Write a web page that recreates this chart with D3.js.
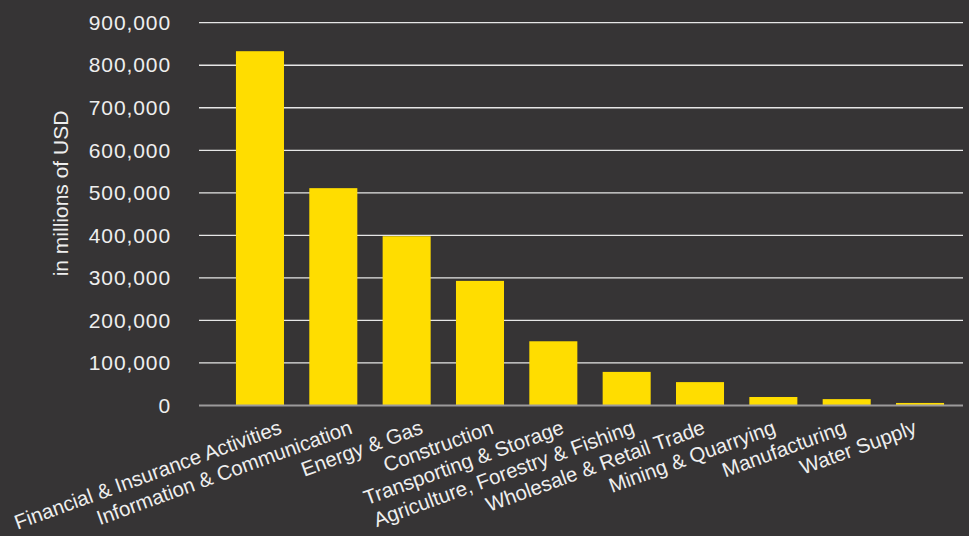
<!DOCTYPE html>
<html>
<head>
<meta charset="utf-8">
<script src="https://cdn.jsdelivr.net/npm/d3@7"></script>
<style>
  html, body { margin: 0; padding: 0; background: #363435; }
  svg { display: block; font-family: "Liberation Sans", Arial, sans-serif; }
</style>
</head>
<body>
<svg id="chart" width="969" height="536"></svg>
<script>
// data
var sectors = [
    "Financial & Insurance Activities",
    "Information & Communication",
    "Energy & Gas",
    "Construction",
    "Transporting & Storage",
    "Agriculture, Forestry & Fishing",
    "Wholesale & Retail Trade",
    "Mining & Quarrying",
    "Manufacturing",
    "Water Supply"
];
var investment = [833000, 511000, 398000, 293000, 151000, 79000, 55000, 20000, 15000, 6000];
var yTicks = [0, 100000, 200000, 300000, 400000, 500000, 600000, 700000, 800000, 900000];

var data = sectors.map((s, i) => ({sector: s, value: investment[i]}));

var svg = d3.select("#chart"),
    gridLeft = 199,
    gridRight = 963,
    yScale = d3.scaleLinear().domain([0, 900000]).range([405.5, 22.7]),
    xScale = d3.scaleBand().domain(sectors).range([223.3, 956.7])
                .paddingInner(0.345).paddingOuter(0.1725),
    // label anchors (right end of each rotated label) are spaced a bit tighter than the bars
    labelScale = d3.scalePoint().domain(sectors).range([283, 918]);

// gridlines
svg.append("g")
    .selectAll("line")
    .data(yTicks.filter(d => d > 0))
    .enter().append("line")
    .attr("x1", gridLeft)
    .attr("x2", gridRight)
    .attr("y1", d => yScale(d))
    .attr("y2", d => yScale(d))
    .attr("stroke", "#e6e6e6")
    .attr("stroke-width", 1.3);

// y axis labels
var yAxis = svg.append("g")
    .attr("transform", "translate(171,0)")
    .call(d3.axisLeft(yScale).tickValues(yTicks).tickSize(0).tickPadding(0)
            .tickFormat(d3.format(",")));
yAxis.select(".domain").remove();
yAxis.selectAll("text")
    .attr("fill", "#eeeeee")
    .attr("font-size", "21px")
    .attr("letter-spacing", "0.9px")
    .attr("font-family", "Liberation Sans, Arial, sans-serif");

// bars
svg.selectAll(".bar")
    .data(data)
    .enter().append("rect")
    .attr("class", "bar")
    .attr("x", d => xScale(d.sector))
    .attr("y", d => yScale(d.value))
    .attr("width", xScale.bandwidth())
    .attr("height", d => yScale(0) - yScale(d.value))
    .attr("fill", "#ffdd00");

// baseline
svg.append("line")
    .attr("x1", gridLeft)
    .attr("x2", gridRight)
    .attr("y1", yScale(0))
    .attr("y2", yScale(0))
    .attr("stroke", "#9c9a9b")
    .attr("stroke-width", 2);

// x labels
svg.append("g")
    .selectAll("text")
    .data(sectors)
    .enter().append("text")
    .attr("transform", d => `translate(${labelScale(d)},433) rotate(-20)`)
    .attr("text-anchor", "end")
    .attr("fill", "#eeeeee")
    .attr("font-size", "20.5px")
    .text(d => d);

// y axis title
svg.append("text")
    .attr("transform", "translate(68,193.5) rotate(-90)")
    .attr("text-anchor", "middle")
    .attr("fill", "#eeeeee")
    .attr("font-size", "21px")
    .text("in millions of USD");
</script>
</body>
</html>
